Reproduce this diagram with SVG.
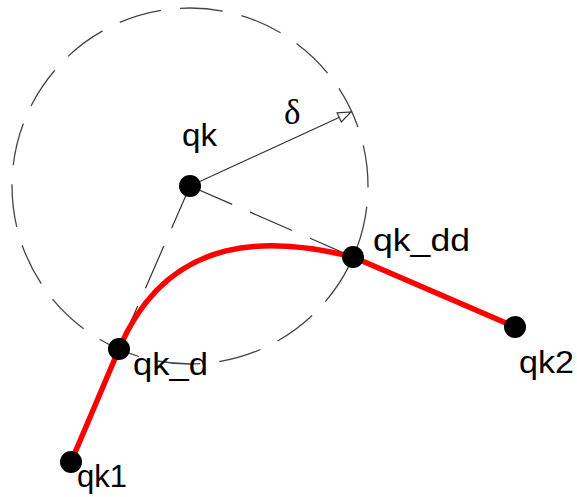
<svg xmlns="http://www.w3.org/2000/svg" width="577" height="497" viewBox="0 0 577 497">
<style>
.lbl{font-family:"Liberation Sans",Arial,sans-serif;font-size:32px;fill:#000}
.dot{fill:#000}
.dash{fill:none;stroke:#333;stroke-width:1.2;stroke-dasharray:46 19.5}
.red{fill:none;stroke:#ff0000;stroke-width:5.5;stroke-linejoin:round}
</style>
<defs>
<marker id="open" markerUnits="userSpaceOnUse" markerWidth="16" markerHeight="12" refX="14" refY="6" orient="auto">
<path d="M1,1 L14,6 L1,11 Z" fill="#fff" stroke="#333" stroke-width="1.2"/>
</marker>
</defs>
<g id="circle">
<circle cx="190" cy="186" r="178" fill="none" stroke="#444" stroke-width="1.3" stroke-dasharray="43 19.13" stroke-dashoffset="41.43"/>
</g>
<g id="connectors">
<line class="dash" x1="190" y1="186" x2="353" y2="257"/>
<line class="dash" x1="190" y1="186" x2="119" y2="349"/>
<line x1="190" y1="186" x2="351" y2="112" stroke="#333" stroke-width="1.2" marker-end="url(#open)"/>
<path class="red" d="M71,462 L119,349 C169.8,229.4 275.4,237.8 353,257 L515,327"/>
</g>
<text x="284" y="124" font-family="'Liberation Serif','Times New Roman',serif" font-size="35">δ</text>
<g id="qk">
<circle class="dot" cx="190" cy="186" r="11"/>
<text class="lbl" x="182" y="146" textLength="35" lengthAdjust="spacingAndGlyphs">qk</text>
</g>
<g id="qk_dd">
<circle class="dot" cx="353" cy="257" r="11"/>
<text class="lbl" x="373" y="251" textLength="97" lengthAdjust="spacingAndGlyphs">qk_dd</text>
</g>
<g id="qk_d">
<circle class="dot" cx="119" cy="349" r="11"/>
<text class="lbl" x="133" y="375" textLength="75" lengthAdjust="spacingAndGlyphs">qk_d</text>
</g>
<g id="qk2">
<circle class="dot" cx="515" cy="327" r="11"/>
<text class="lbl" x="519" y="373" textLength="55" lengthAdjust="spacingAndGlyphs">qk2</text>
</g>
<g id="qk1">
<circle class="dot" cx="71" cy="462" r="11"/>
<text class="lbl" x="77" y="487" textLength="50" lengthAdjust="spacingAndGlyphs">qk1</text>
</g>
</svg>
